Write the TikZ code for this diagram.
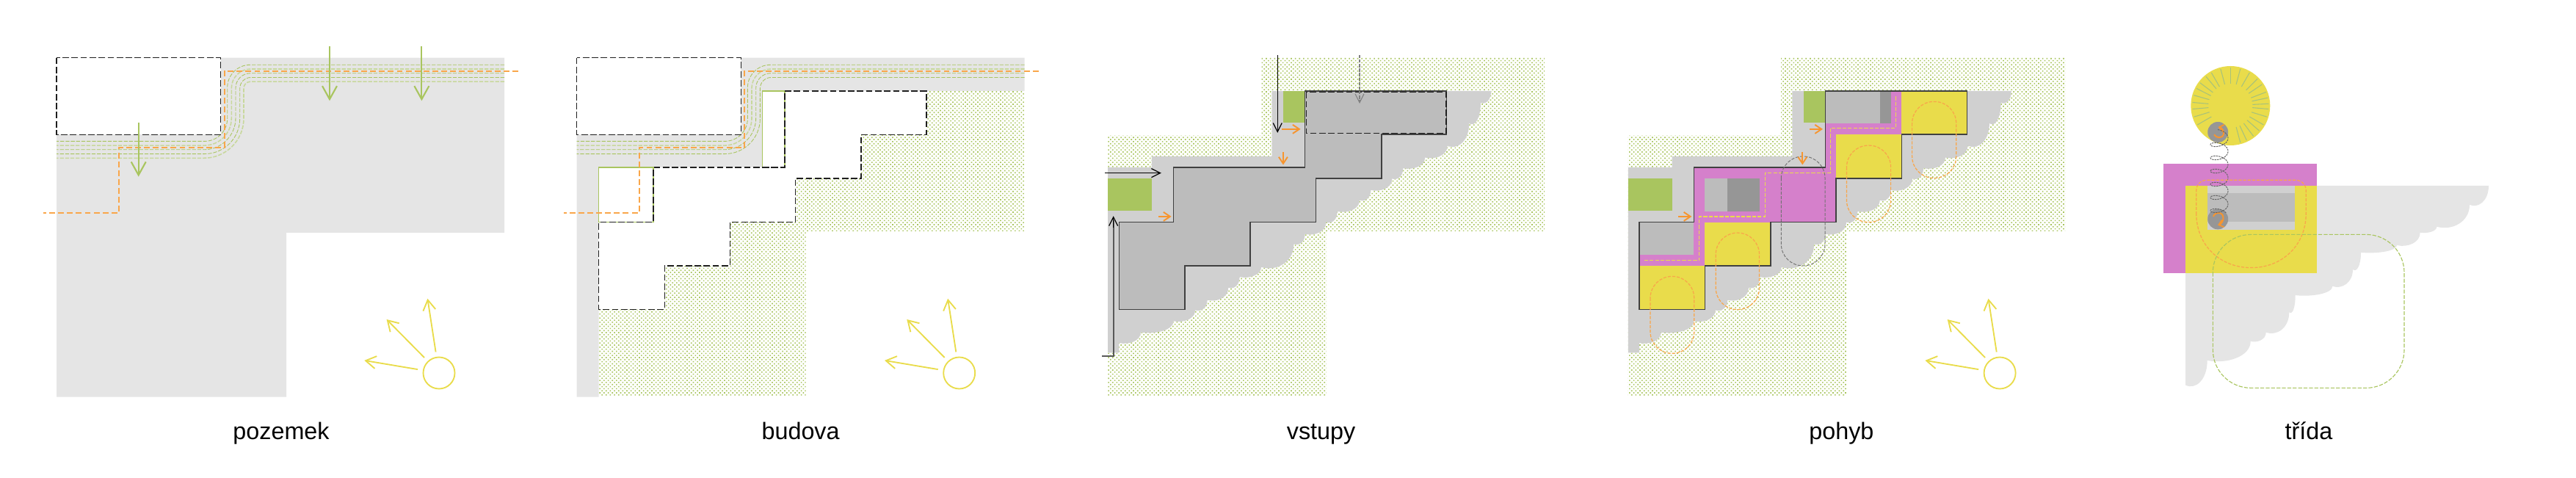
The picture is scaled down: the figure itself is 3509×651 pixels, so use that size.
\documentclass[tikz,border=0pt]{standalone}
\usepackage{fontspec}
\setmainfont{Liberation Sans}
\usetikzlibrary{arrows.meta,patterns.meta}
\definecolor{lightg}{HTML}{E5E5E5}
\definecolor{shadeg}{HTML}{D0D0D0}
\definecolor{buildg}{HTML}{BCBCBC}
\definecolor{darkg}{HTML}{969696}
\definecolor{leaf}{HTML}{A9C55F}
\definecolor{leafl}{HTML}{C8D89C}
\definecolor{sunny}{HTML}{E9DC4B}
\definecolor{orng}{HTML}{F9A64A}
\definecolor{orngd}{HTML}{F7952F}
\definecolor{pinkk}{HTML}{D580CB}
\definecolor{rayc}{HTML}{A8C27A}
\tikzset{
  lbl/.style={anchor=base,inner sep=0pt,font=\fontsize{18.4}{22}\selectfont},
  hatchfill/.style={pattern={Dots[distance=0.08cm,angle=45,radius=0.023cm]},pattern color=leaf},
  blackdash/.style={draw=black!88,line width=0.7pt,dash pattern=on 5pt off 2pt},
  orangedash/.style={draw=orng,line width=1.1pt,dash pattern=on 4.5pt off 2.4pt},
  thinorange/.style={draw=orng,line width=0.7pt,dash pattern=on 2.4pt off 1.1pt},
  thingreen/.style={draw=leaf,line width=0.65pt,dash pattern=on 3pt off 1.2pt},
  tgl/.style={draw=leaf,line width=0.5pt,dash pattern=on 3pt off 1.1pt},
  tgh/.style={draw=leafl,line width=0.9pt,dash pattern=on 3pt off 1.1pt},
  greenarrow/.style={draw=leaf,line width=1.2pt,-{Straight Barb[length=0.36cm,width=0.4cm,line width=1.2pt]}},
  sunarrow/.style={draw=sunny,line width=1.05pt,-{Straight Barb[length=0.28cm,width=0.34cm,line width=1.05pt]}},
  blackarrow/.style={draw=black,line width=0.7pt,-{Straight Barb[length=0.24cm,width=0.24cm,line width=0.7pt]}},
  orangearrow/.style={draw=orngd,line width=1.1pt,-{Straight Barb[length=0.18cm,width=0.24cm,line width=1.1pt]}},
  curlarrow/.style={draw=orngd,line width=1.1pt,-{Straight Barb[length=0.12cm,width=0.2cm,line width=1pt]}},
  stairline/.style={draw=black!75,line width=0.8pt,line join=miter},
}
% outward bulging scallop from (#1,#2) to (#3,#4)
\newcommand\scl[4]{.. controls (#1,{#2+0.8*(#4-#2)}) and ({#3+0.45*(#1-#3)},{#4+0.2*(#4-#2)}) .. (#3,#4)}
% stepped building, frame of the third panel
\newcommand\stairs{(1777.7,123.9) -- (1970.6,123.9) -- (1970.6,183.2) -- (1881.8,183.2) -- (1881.8,242.9) -- (1792.3,242.9) -- (1792.3,302.6) -- (1703.1,302.6) -- (1703.1,361.9) -- (1613.9,361.9) -- (1613.9,421.6) -- (1524.4,421.6) -- (1524.4,302.6) -- (1598.6,302.6) -- (1598.6,228) -- (1777.7,228) -- cycle}
\newcommand\shadowshape{(1732.6,123.9) -- (2031.1,123.9) \scl{2031.1}{123.9}{2016.9}{139.9} \scl{2016.9}{139.9}{2001.2}{167.9} \scl{2001.2}{167.9}{1971.8}{198.5} \scl{1971.8}{198.5}{1941.2}{214.6} \scl{1941.2}{214.6}{1911.3}{229.1} \scl{1911.3}{229.1}{1896.4}{243.3} \scl{1896.4}{243.3}{1867.3}{258.9} \scl{1867.3}{258.9}{1852}{272.7} \scl{1852}{272.7}{1821.7}{288} \scl{1821.7}{288}{1806.4}{302.6} \scl{1806.4}{302.6}{1777.7}{318.7} \scl{1777.7}{318.7}{1762.4}{332.4} \scl{1762.4}{332.4}{1718}{363.8} \scl{1718}{363.8}{1688.6}{377.2} \scl{1688.6}{377.2}{1673.3}{391.7} \scl{1673.3}{391.7}{1644.6}{408.6} \scl{1644.6}{408.6}{1628.1}{422.4} \scl{1628.1}{422.4}{1598.6}{437.3} \scl{1598.6}{437.3}{1553.9}{452.6} \scl{1553.9}{452.6}{1524.4}{467.1} -- (1524.4,480.5) -- (1509.1,480.5) -- (1509.1,228) -- (1568.8,228) -- (1568.8,213) -- (1732.6,213) -- cycle}
\newcommand\hatchshape{(1509.1,184.7) -- (1717.5,184.7) -- (1717.5,79) -- (2104.5,79) -- (2104.5,315) -- (1806.4,315) -- (1806.4,539) -- (1509.1,539) -- cycle}
\newcommand\sunmark{%
  \draw[sunny,line width=1.05pt] (598,508) circle (21.5);
  \draw[sunarrow] (569,503.1) -- (496.3,490.9);
  \draw[sunarrow] (578,487) -- (526.6,435);
  \draw[sunarrow] (593.6,479.4) -- (582.4,406.7);
}
% green service line: y top, x, y bottom, r top, r bottom
\newcommand\gline[6]{\draw[#1,rounded corners=#5cm] (687,#2) -- (#3,#2) [rounded corners=#6cm] -- (#3,#4) -- (77,#4);}
\newcommand\glines{%
  \gline{tgl}{88.3}{309.7}{192.4}{.62}{.62}
  \gline{tgh}{94}{315.3}{198.1}{.52}{.74}
  \gline{tgl}{99.8}{321}{203.8}{.40}{.86}
  \gline{tgl}{105.5}{326.7}{209.6}{.30}{.96}
}
\newcommand\oline{\draw[orangedash] (706,96.7) -- (305.6,96.7) -- (305.6,200.8) -- (162.3,200.8) -- (162.3,290) -- (59.2,290);}
\begin{document}
\begin{tikzpicture}[x=0.02cm,y=-0.02cm]
\useasboundingbox (0,0) rectangle (3509,651);

% ---------- panel 1
\fill[lightg] (77,78.7) -- (687,78.7) -- (687,317) -- (390,317) -- (390,540.6) -- (77,540.6) -- cycle;
\fill[white] (77,78.7) rectangle (300.7,183.2);
\glines
\gline{tgh}{111.2}{332}{215.3}{.18}{1.08}
\draw[blackdash] (77,78.7) rectangle (300.7,183.2);
\oline
\draw[greenarrow] (449,62.6) -- (449,137.3);
\draw[greenarrow] (574.4,62.6) -- (574.4,137.3);
\draw[greenarrow] (188.7,167) -- (188.7,240.6);
\sunmark
\node[lbl] (pozemek) at (383,598.4) {pozemek};

% ---------- panel 2
\begin{scope}[shift={(708.7,0)}]
\fill[lightg] (77,78.7) -- (687,78.7) -- (687,123.9) -- (330.1,123.9) -- (330.1,228) -- (106.9,228) -- (106.9,540.6) -- (77,540.6) -- cycle;
\fill[white] (77,78.7) rectangle (300.7,183.2);
\glines
\end{scope}
\begin{scope}[shift={(-708.7,0)}]
\fill[hatchfill] (1747.5,123.9) -- (2104.5,123.9) -- (2104.5,315) -- (1806.4,315) -- (1806.4,539) -- (1524.4,539) -- (1524.4,228) -- (1747.5,228) -- cycle;
\fill[white] \stairs;
\fill[white] (1747.5,123.9) rectangle (1777.7,228);
\fill[white] (1524.4,228) rectangle (1598.6,302.6);
\draw[leaf,line width=0.7pt] (1747.5,228) -- (1747.5,123.9) -- (1777.7,123.9) -- (1777.7,228);
\draw[leaf,line width=0.7pt] (1524.4,302.6) -- (1524.4,228) -- (1598.6,228) -- (1598.6,302.6) -- cycle;
\draw[blackdash] \stairs;
\draw[blackdash] (1747.5,228) -- (1777.7,228);
\end{scope}
\begin{scope}[shift={(708.7,0)}]
\draw[blackdash] (77,78.7) rectangle (300.7,183.2);
\oline
\sunmark
\end{scope}
\node[lbl] (budova) at (1090.6,598.4) {budova};

% ---------- panel 3
\fill[hatchfill] \hatchshape;
\fill[shadeg] \shadowshape;
\fill[leaf] (1747.9,123.9) rectangle (1777.7,167.5);
\fill[leaf] (1509.1,242.9) rectangle (1568.8,287.3);
\fill[buildg] \stairs;
\draw[stairline] \stairs;
\draw[blackdash] (1779.3,125.4) rectangle (1969.9,181.6);
\draw[blackarrow] (1740.2,74.9) -- (1740.2,180.9);
\draw[draw=black!50,line width=0.6pt,dash pattern=on 2.5pt off 1pt,-{Straight Barb[length=0.24cm,width=0.24cm,line width=0.6pt]}] (1852,74.9) -- (1852,141);
\draw[blackarrow] (1505.3,235.6) -- (1581.8,235.6);
\draw[draw=black!65,line width=1pt] (1501.4,485.1) -- (1516.7,485.1) -- (1516.7,300);
\draw[blackarrow] (1516.7,310) -- (1516.7,294.2);
\draw[orangearrow] (1746.4,175.9) -- (1771.6,175.9);
\draw[orangearrow] (1747.9,206.9) -- (1747.9,224.5);
\draw[orangearrow] (1578,294.9) -- (1595.6,294.9);
\node[lbl] (vstupy) at (1799.6,598.4) {vstupy};

% ---------- panel 4
\begin{scope}[shift={(708.7,0)}]
\fill[hatchfill] \hatchshape;
\fill[shadeg] \shadowshape;
\fill[leaf] (1747.9,123.9) rectangle (1777.7,167.5);
\fill[leaf] (1509.1,242.9) rectangle (1568.8,287.3);
\fill[pinkk] \stairs;
\end{scope}
\fill[buildg] (2486.4,123.9) rectangle (2561,167.9);
\fill[darkg] (2561,123.9) rectangle (2575.6,167.9);
\fill[sunny] (2590,123.9) rectangle (2679.3,183.2);
\fill[sunny] (2500.5,183.2) rectangle (2590,242.9);
\fill[buildg] (2321.8,242.9) rectangle (2352.5,288);
\fill[darkg] (2352.5,242.9) rectangle (2396.9,288);
\fill[buildg] (2233.1,302.6) rectangle (2307.3,347);
\fill[sunny] (2321.8,302.6) rectangle (2411.8,361.9);
\fill[sunny] (2233.1,361.9) rectangle (2322.6,421.6);
\draw[draw=sunny,line width=0.7pt,dash pattern=on 3pt off 1.2pt] (2239.8,354.6) -- (2314.8,354.6) -- (2314.8,294.9) -- (2404.3,294.9) -- (2404.3,235.2) -- (2493.5,235.2) -- (2493.5,174.4) -- (2582.6,174.4) -- (2582.6,131.1);
\begin{scope}[shift={(708.7,0)}]
\draw[stairline] \stairs;
\end{scope}
\draw[thinorange,rounded corners=0.59cm] (2248,376.4) rectangle (2307.7,481.3);
\draw[thinorange,rounded corners=0.59cm] (2337.2,317.1) rectangle (2396.5,421.6);
\draw[thinorange,rounded corners=0.59cm] (2515.5,198.1) rectangle (2575.6,302.6);
\draw[thinorange,rounded corners=0.59cm] (2604.6,138.4) rectangle (2664.7,242.5);
\draw[draw=black!55,line width=0.55pt,dash pattern=on 2.4pt off 1.1pt,rounded corners=0.59cm] (2426.3,213) rectangle (2486,361.9);
\draw[orangearrow] (2464.9,175.9) -- (2483,175.9);
\draw[orangearrow] (2455.3,206.9) -- (2455.3,224.5);
\draw[orangearrow] (2286,294.9) -- (2304.4,294.9);
\begin{scope}[shift={(2126.1,0)}]
\sunmark
\end{scope}
\node[lbl] (pohyb) at (2508.4,598.4) {pohyb};

% ---------- panel 5
\fill[lightg] (3156,252.8) -- (3390,252.8) \scl{3390}{252.8}{3364}{278.9} \scl{3364}{278.9}{3319.3}{308.7} \scl{3319.3}{308.7}{3296.7}{316.7} \scl{3296.7}{316.7}{3265}{334} \scl{3265}{334}{3216}{343.9} \scl{3216}{343.9}{3205}{366.9} \scl{3205}{366.9}{3177.3}{389.8} \scl{3177.3}{389.8}{3126.7}{402.1} \scl{3126.7}{402.1}{3118.3}{425} \scl{3118.3}{425}{3086.7}{452.6} \scl{3086.7}{452.6}{3065.7}{464.8} \scl{3065.7}{464.8}{3006.7}{490.9} \scl{3006.7}{490.9}{2977}{524.5} -- (2977,371.9) -- cycle;
\fill[pinkk] (2947.3,223) rectangle (3156,371.9);
\fill[sunny] (2977,252.8) rectangle (3156,371.9);
\fill[shadeg] (3007,252.8) rectangle (3126,312.9);
\fill[buildg] (3007,263.2) rectangle (3126,302.2);
\fill[sunny] (3038.3,144) circle (54);
\foreach \a in {90,75,60,45,34,21,12,3,-5,-17,-30,-41,-53,-65,-75,105,120,130,143,153,164,175,185,197,210}
  \draw[rayc,line width=0.6pt] ({3038.3+30*cos(\a)},{144-30*sin(\a)}) -- ({3038.3+52*cos(\a)},{144-52*sin(\a)});
\fill[darkg] (3021.2,180) circle (14);
\fill[darkg] (3021.2,298.4) circle (14);
\draw[curlarrow] (3016,183.3) .. controls (3018,188) and (3029,190) .. (3029,181) .. controls (3029,177) and (3026,174) .. (3021.5,173);
\draw[curlarrow] (3015,295) .. controls (3016,289) and (3028.5,287) .. (3028.5,297) .. controls (3028.5,301) and (3026,305) .. (3021,306.5);
\draw[draw=black!60,line width=0.55pt,dash pattern=on 1.4pt off 0.6pt] plot[smooth,samples=230,domain=40:2260] ({3023+12*cos(\x)},{296-\x/20-6.5*sin(\x)});
\draw[thinorange] (2991.7,290) .. controls (2991.7,335) and (3025,364.6) .. (3066.5,364.6) .. controls (3108,364.6) and (3141.3,335) .. (3141.3,290) -- (3141.3,260) .. controls (3141.3,251) and (3135,245.2) .. (3126,245.2) -- (3007,245.2) .. controls (2998,245.2) and (2991.7,251) .. (2991.7,260) -- cycle;
\draw[thingreen,rounded corners=1.04cm] (3014.3,319.4) rectangle (3275,528.4);
\node[lbl] (trida) at (3145,598.4) {třída};
\end{tikzpicture}
\end{document}
